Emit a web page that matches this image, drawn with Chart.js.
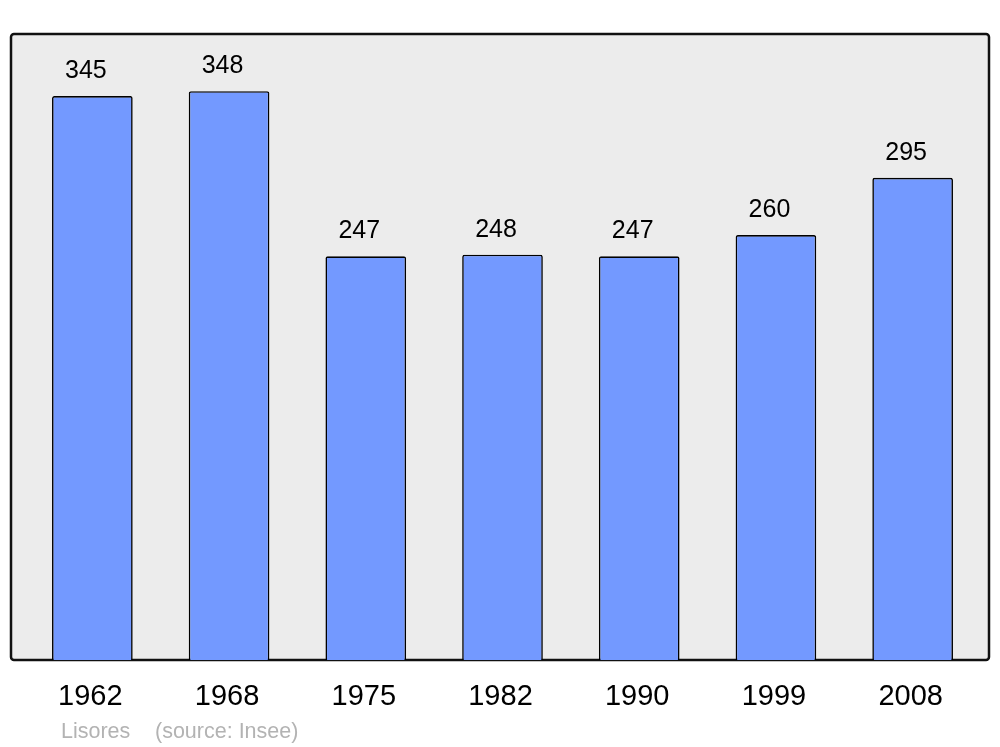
<!DOCTYPE html>
<html>
<head>
<meta charset="utf-8">
<script src="https://cdn.jsdelivr.net/npm/chart.js@4"></script>
<style>
  html, body { margin: 0; padding: 0; background: #fff; }
  #wrap { width: 1000px; height: 747px; }
</style>
</head>
<body>
<div id="wrap"><canvas id="popChart" width="1000" height="747"></canvas></div>
<script>
const years = ['1962', '1968', '1975', '1982', '1990', '1999', '2008'];
const population = [345, 348, 247, 248, 247, 260, 295];
const commune = 'Lisores';
const source = '(source: Insee)';

const FONT = '"Liberation Sans", Arial, sans-serif';

// grey frame behind the bars + footer text
const framePlugin = {
  id: 'frame',
  beforeDraw(chart) {
    const { ctx, chartArea: a } = chart;
    const x0 = a.left - 13, x1 = a.right + 8;
    ctx.save();
    ctx.beginPath();
    ctx.roundRect(x0, a.top, x1 - x0, a.bottom - a.top, 3);
    ctx.fillStyle = '#ececec';
    ctx.fill();
    ctx.lineWidth = 2.5;
    ctx.strokeStyle = '#111';
    ctx.stroke();
    ctx.restore();
  },
  afterDraw(chart) {
    const { ctx, chartArea: a } = chart;
    ctx.save();
    ctx.font = '21.5px ' + FONT;
    ctx.fillStyle = '#b3b3b3';
    ctx.textBaseline = 'alphabetic';
    ctx.textAlign = 'left';
    ctx.fillText(commune, a.left + 37, 738);
    ctx.fillText(source, a.left + 131, 738);
    ctx.restore();
  }
};

// numbers on top of the bars
const valuePlugin = {
  id: 'values',
  afterDatasetsDraw(chart) {
    const { ctx } = chart;
    const meta = chart.getDatasetMeta(0);
    ctx.save();
    ctx.font = '25px ' + FONT;
    ctx.fillStyle = '#000';
    ctx.textAlign = 'center';
    ctx.textBaseline = 'alphabetic';
    meta.data.forEach((bar, i) => {
      ctx.fillText(String(population[i]), bar.x - 6.5, bar.y - 18);
    });
    ctx.restore();
  }
};

new Chart(document.getElementById('popChart').getContext('2d'), {
  type: 'bar',
  data: {
    labels: years,
    datasets: [{
      data: population,
      backgroundColor: '#7399ff',
      borderColor: '#000',
      borderWidth: 1.6,
      borderRadius: { topLeft: 2, topRight: 2 },
      borderSkipped: 'bottom',
      barPercentage: 0.59,
      categoryPercentage: 1
    }]
  },
  options: {
    responsive: false,
    animation: false,
    layout: { padding: { left: 24, right: 19, top: 34, bottom: 0 } },
    scales: {
      y: { display: false, min: 0, max: 383 },
      x: {
        grid: { display: false, drawTicks: false },
        border: { display: false },
        ticks: { color: '#000', font: { family: FONT, size: 29 }, padding: 20, labelOffset: -2 },
        afterFit(scale) { scale.height = 87; }
      }
    },
    plugins: {
      legend: { display: false },
      tooltip: { enabled: false }
    }
  },
  plugins: [framePlugin, valuePlugin]
});
</script>
</body>
</html>
